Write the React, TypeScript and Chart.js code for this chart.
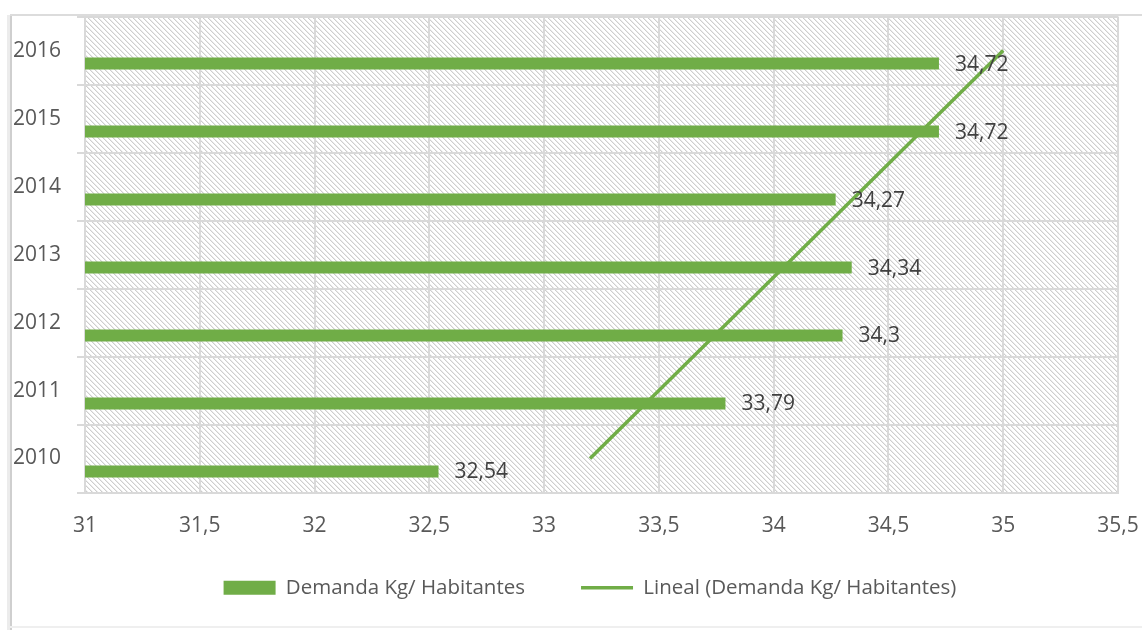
import { useEffect, useRef } from 'react';
import { Chart, registerables } from 'chart.js';

Chart.register(...registerables);

// Years listed top to bottom as they appear on the category axis
const years = ['2016', '2015', '2014', '2013', '2012', '2011', '2010'];
// Demand in kg per inhabitant, same order as years
const demanda = [34.72, 34.72, 34.27, 34.34, 34.3, 33.79, 32.54];
// Linear trend of the demand, same order as years
const tendencia = [35.0, 34.7, 34.4, 34.1, 33.8, 33.5, 33.2];
// Value-axis ticks
const xTicks = [31, 31.5, 32, 32.5, 33, 33.5, 34, 34.5, 35, 35.5];

const serieNombre = 'Demanda Kg/ Habitantes';
const tendenciaNombre = 'Lineal (Demanda Kg/ Habitantes)';

const GREEN = '#70AD47';
const GRID = '#D9D9D9';
const TEXT = '#595959';
const FONT = "'Open Sans', sans-serif";

const fmt = (v: number) => String(v).replace('.', ',');

function makeHatch(): CanvasPattern | string {
  const n = 5;
  const c = document.createElement('canvas');
  c.width = n;
  c.height = n;
  const g = c.getContext('2d');
  if (!g) return '#fff';
  g.fillStyle = '#ffffff';
  g.fillRect(0, 0, n, n);
  for (let i = 0; i < n; i++) {
    g.fillStyle = '#cecece';
    g.fillRect(i, i, 1, 1);
    g.fillStyle = '#ebebeb';
    g.fillRect((i + 1) % n, i, 1, 1);
  }
  return g.createPattern(c, 'repeat') || '#fff';
}

// Chart frame plus the hatched plot background
const backdrop = {
  id: 'backdrop',
  beforeDraw(chart: any) {
    const { ctx, chartArea } = chart;
    ctx.save();
    ctx.fillStyle = '#ffffff';
    ctx.fillRect(0, 0, chart.width, chart.height);
    // frame
    ctx.fillStyle = '#ececec';
    ctx.fillRect(7, 15, 3, chart.height - 15);
    ctx.fillStyle = '#cfcfcf';
    ctx.fillRect(10, 14, 2, chart.height - 14);
    ctx.fillStyle = '#dcdcdc';
    ctx.fillRect(10, 14, chart.width, 2);
    ctx.fillStyle = '#efefef';
    ctx.fillRect(10, 626, chart.width, 2);
    // hatched plot area
    ctx.fillStyle = makeHatch();
    ctx.fillRect(chartArea.left, chartArea.top, chartArea.right - chartArea.left, chartArea.bottom - chartArea.top);
    ctx.restore();
  },
};

// Value labels at the end of each bar
const valueLabels = {
  id: 'valueLabels',
  afterDatasetsDraw(chart: any) {
    const { ctx } = chart;
    const meta = chart.getDatasetMeta(1);
    ctx.save();
    ctx.font = `21px ${FONT}`;
    ctx.fillStyle = '#404040';
    ctx.textAlign = 'left';
    ctx.textBaseline = 'middle';
    meta.data.forEach((bar: any, i: number) => {
      ctx.fillText(fmt(demanda[i]), bar.x + 16, bar.y + 1);
    });
    ctx.restore();
  },
};

export default function App() {
  const ref = useRef<HTMLCanvasElement | null>(null);

  useEffect(() => {
    if (!ref.current) return;
    Chart.defaults.font.family = FONT;
    Chart.defaults.font.size = 21;
    Chart.defaults.color = TEXT;

    const chart = new Chart(ref.current, {
      type: 'bar',
      data: {
        labels: years,
        datasets: [
          {
            // empty companion series that shares each category slot
            label: '',
            data: years.map(() => null),
            backgroundColor: 'transparent',
          },
          {
            label: serieNombre,
            data: demanda,
            backgroundColor: GREEN,
          },
          {
            type: 'line',
            label: tendenciaNombre,
            data: tendencia,
            indexAxis: 'y',
            borderColor: GREEN,
            backgroundColor: GREEN,
            borderWidth: 3.5,
            pointRadius: 0,
            fill: false,
          } as any,
        ],
      },
      options: {
        indexAxis: 'y',
        responsive: false,
        animation: false,
        devicePixelRatio: 1,
        datasets: { bar: { categoryPercentage: 0.763, barPercentage: 0.46 } },
        layout: { padding: { top: 15, left: 13, right: 13, bottom: 22 } },
        plugins: {
          tooltip: { enabled: false },
          legend: {
            position: 'bottom',
            labels: {
              usePointStyle: true,
              pointStyleWidth: 52,
              boxHeight: 14,
              padding: 56,
              color: TEXT,
              font: { size: 20.5, family: FONT },
              generateLabels: () => [
                {
                  text: serieNombre,
                  fillStyle: GREEN,
                  strokeStyle: GREEN,
                  lineWidth: 0,
                  pointStyle: 'rect',
                  hidden: false,
                  datasetIndex: 1,
                  fontColor: TEXT,
                },
                {
                  text: tendenciaNombre,
                  fillStyle: GREEN,
                  strokeStyle: GREEN,
                  lineWidth: 3.5,
                  pointStyle: 'line',
                  hidden: false,
                  datasetIndex: 2,
                  fontColor: TEXT,
                },
              ],
            },
          },
        },
        scales: {
          x: {
            type: 'linear',
            min: xTicks[0],
            max: xTicks[xTicks.length - 1],
            afterBuildTicks: (s: any) => {
              s.ticks = xTicks.map((v) => ({ value: v }));
            },
            afterFit: (s: any) => {
              s.height = 29;
            },
            grid: { color: GRID, lineWidth: 2, drawTicks: false },
            border: { color: GRID, width: 2 },
            ticks: {
              // mirrored with a negative offset so the labels sit below the axis line
              mirror: true,
              padding: -46,
              color: TEXT,
              callback: (v: any) => fmt(Number(v)),
            },
          },
          y: {
            type: 'category',
            afterFit: (s: any) => {
              s.width = 72;
            },
            grid: { color: GRID, lineWidth: 2, tickLength: 8, offset: true },
            border: { color: GRID, width: 2 },
            ticks: { crossAlign: 'far', color: TEXT, padding: 4 },
          },
          yPad: {
            type: 'linear',
            position: 'right',
            display: true,
            grid: { display: false, drawTicks: false },
            border: { display: false },
            ticks: { display: false },
            afterFit: (s: any) => {
              s.width = 49;
            },
          },
        },
      } as any,
      plugins: [backdrop, valueLabels],
    });
    return () => chart.destroy();
  }, []);

  return (
    <div style={{ position: 'fixed', left: 0, top: 0, width: 1142, height: 630, overflow: 'hidden', background: '#fff' }}>
      <canvas ref={ref} width={1180} height={630} style={{ display: 'block' }} />
    </div>
  );
}
